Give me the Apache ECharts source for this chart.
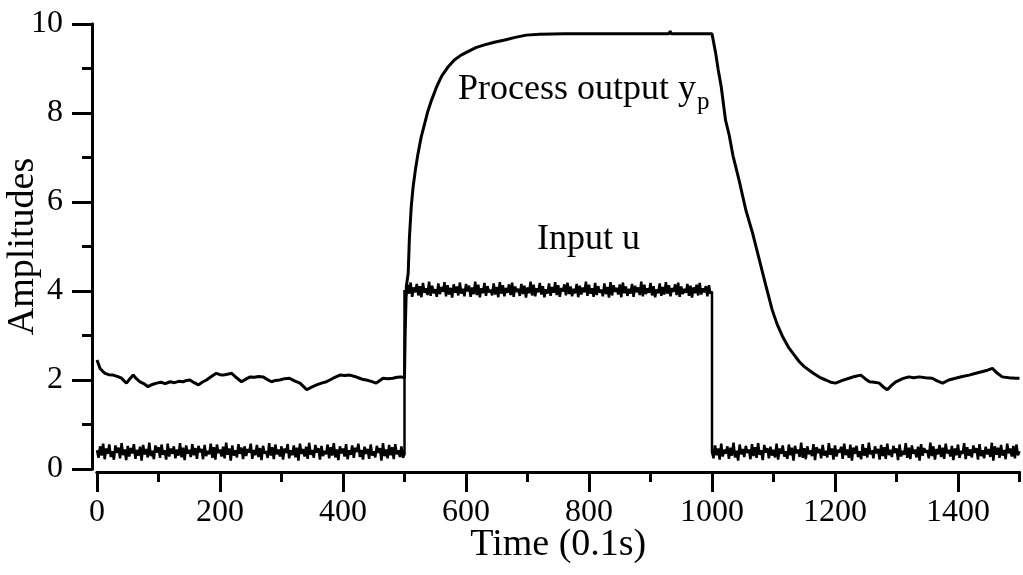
<!DOCTYPE html>
<html>
<head>
<meta charset="utf-8">
<script src="https://cdn.jsdelivr.net/npm/echarts@6/dist/echarts.min.js"></script>
<style>
html,body{margin:0;padding:0;background:#fff;}
#chart{width:1023px;height:575px;}
</style>
</head>
<body>
<div id="chart"></div>
<script>
// ---- Data ----
const xMajorTicks = [0, 200, 400, 600, 800, 1000, 1200, 1400];
const xMinorTicks = [100, 300, 500, 700, 900, 1100, 1300, 1500];
const yMajorTicks = [0, 2, 4, 6, 8, 10];
const yMinorTicks = [1, 3, 5, 7, 9];

const inputStep = 2.5; // sampling step of the input samples below (0.1 s units)
const inputSegmentStarts = [0, 500, 1000];
const inputLowStart = [
0.42,0.25,0.51,0.30,0.57,0.22,0.46,0.34,0.55,0.27,
0.40,0.21,0.53,0.36,0.48,0.24,0.58,0.31,0.44,0.20,
0.52,0.28,0.47,0.35,0.56,0.23,0.43,0.30,0.50,0.19,
0.54,0.33,0.45,0.26,0.59,0.29,0.41,0.22,0.53,0.37,
0.49,0.25,0.55,0.32,0.42,0.21,0.57,0.28,0.46,0.34,
0.51,0.24,0.44,0.30,0.58,0.26,0.48,0.20,0.53,0.35,
0.43,0.27,0.56,0.31,0.47,0.23,0.52,0.38,0.45,0.22,
0.54,0.29,0.41,0.33,0.57,0.25,0.49,0.21,0.55,0.36,
0.44,0.28,0.50,0.24,0.59,0.32,0.46,0.19,0.53,0.30,
0.42,0.26,0.56,0.34,0.48,0.22,0.51,0.29,0.45,0.37,
0.57,0.23,0.43,0.31,0.54,0.27,0.47,0.20,0.52,0.35,
0.40,0.25,0.58,0.30,0.49,0.22,0.55,0.33,0.44,0.28,
0.51,0.21,0.46,0.36,0.56,0.24,0.42,0.31,0.53,0.26,
0.48,0.19,0.57,0.34,0.45,0.28,0.50,0.23,0.59,0.32,
0.43,0.25,0.54,0.37,0.47,0.21,0.52,0.29,0.41,0.33,
0.55,0.24,0.49,0.30,0.58,0.26,0.44,0.20,0.51,0.35,
0.46,0.28,0.56,0.22,0.42,0.32,0.53,0.25,0.48,0.38,
0.57,0.27,0.43,0.21,0.50,0.34,0.45,0.23,0.55,0.30,
0.40,0.26,0.52,0.36,0.47,0.19,0.58,0.29,0.44,0.24,
0.54,0.31,0.49,0.22,0.56,0.33,0.42,0.27,0.51,0.25,
0.33];
const inputHigh = [
4.02,3.88,4.14,3.94,4.19,3.87,4.08,3.97,4.16,3.90,
4.11,3.86,4.18,3.96,4.06,3.91,4.21,3.89,4.12,3.95,
4.04,3.87,4.17,3.93,4.09,3.98,4.20,3.88,4.13,3.92,
4.07,3.85,4.15,3.96,4.10,3.90,4.19,3.94,4.05,3.88,
4.16,3.99,4.12,3.87,4.08,3.93,4.21,3.91,4.14,3.86,
4.06,3.95,4.18,3.89,4.11,3.97,4.03,3.90,4.17,3.92,
4.09,3.86,4.20,3.94,4.13,3.88,4.07,3.96,4.15,3.91,
4.19,3.87,4.10,3.98,4.05,3.89,4.16,3.93,4.12,3.85,
4.08,3.95,4.21,3.90,4.14,3.88,4.06,3.97,4.18,3.92,
4.11,3.86,4.04,3.94,4.17,3.89,4.09,3.96,4.20,3.91,
4.13,3.87,4.07,3.99,4.15,3.90,4.19,3.93,4.10,3.88,
4.05,3.95,4.16,3.86,4.12,3.92,4.08,3.97,4.21,3.89,
4.14,3.94,4.06,3.87,4.18,3.91,4.11,3.96,4.03,3.88,
4.17,3.93,4.09,3.85,4.20,3.90,4.13,3.98,4.07,3.92,
4.15,3.86,4.19,3.95,4.10,3.89,4.05,3.94,4.16,3.87,
4.12,3.97,4.08,3.91,4.21,3.88,4.14,3.93,4.06,3.96,
4.18,3.90,4.11,3.86,4.04,3.95,4.17,3.89,4.09,3.92,
4.20,3.94,4.13,3.88,4.07,3.98,4.15,3.91,4.19,3.87,
4.10,3.93,4.05,3.96,4.16,3.89,4.12,3.85,4.08,3.95,
4.14,3.90,4.18,3.92,4.06,3.97,4.11,3.88,4.13,3.94,
3.99];
const inputLowEnd = [
0.38,0.24,0.53,0.31,0.46,0.21,0.57,0.28,0.43,0.35,
0.51,0.23,0.48,0.30,0.59,0.26,0.41,0.19,0.55,0.33,
0.45,0.27,0.52,0.36,0.44,0.22,0.56,0.29,0.49,0.25,
0.58,0.32,0.42,0.20,0.54,0.37,0.47,0.24,0.50,0.30,
0.43,0.26,0.57,0.21,0.46,0.34,0.53,0.28,0.40,0.23,
0.55,0.31,0.48,0.19,0.52,0.35,0.44,0.27,0.59,0.25,
0.47,0.22,0.51,0.33,0.42,0.29,0.56,0.20,0.49,0.36,
0.45,0.24,0.54,0.30,0.41,0.26,0.58,0.32,0.46,0.21,
0.53,0.28,0.43,0.37,0.50,0.23,0.57,0.31,0.44,0.25,
0.55,0.19,0.48,0.34,0.52,0.27,0.40,0.22,0.56,0.30,
0.47,0.26,0.59,0.33,0.42,0.24,0.51,0.35,0.45,0.21,
0.54,0.29,0.49,0.23,0.57,0.31,0.43,0.27,0.52,0.36,
0.46,0.20,0.55,0.28,0.41,0.32,0.58,0.25,0.48,0.22,
0.53,0.34,0.44,0.26,0.50,0.19,0.56,0.30,0.47,0.37,
0.42,0.24,0.59,0.29,0.51,0.21,0.45,0.33,0.54,0.27,
0.48,0.23,0.57,0.35,0.43,0.28,0.52,0.20,0.46,0.31,
0.55,0.25,0.41,0.34,0.58,0.22,0.49,0.30,0.44,0.26,
0.53,0.36,0.47,0.21,0.56,0.29,0.42,0.24,0.50,0.33,
0.45,0.27,0.59,0.19,0.51,0.32,0.48,0.25,0.54,0.30,
0.43,0.22,0.57,0.35,0.46,0.28,0.52,0.24,0.55,0.31,
0.40];

const outputTime = [
0,5,9,13,19,26,33,40,44,48,53,59,64,70,76,83,90,97,104,111,119,126,133,140,146,151,158,165,171,178,
186,194,200,205,212,219,227,235,242,249,256,263,270,277,284,290,297,305,313,321,330,336,341,349,357,365,373,384,395,403,
411,419,427,433,438,446,454,460,465,473,481,488,495,500,501,503,506,508,511,514,518,522,527,533,538,544,552,560,570,581,
592,603,616,630,646,663,680,698,720,760,800,860,930,932,934,980,1000,1001,1006,1010,1015,1022,1028,1034,1044,1055,1066,1077,1088,1098,
1106,1115,1125,1136,1142,1150,1158,1166,1175,1185,1193,1201,1212,1223,1232,1242,1249,1256,1264,1272,1278,1285,1292,1299,1310,1320,1328,1337,1347,1358,
1366,1375,1385,1396,1407,1418,1429,1440,1448,1456,1464,1472,1483,1494,1500];
const outputValue = [
2.45,2.26,2.20,2.15,2.12,2.11,2.08,2.04,1.98,1.93,2.02,2.11,2.03,1.96,1.92,1.85,1.90,1.93,1.95,1.92,1.96,1.94,1.97,1.96,1.99,2.00,1.94,1.89,1.95,2.00,
2.08,2.15,2.12,2.11,2.13,2.15,2.05,1.96,2.02,2.07,2.06,2.08,2.07,2.01,1.96,1.99,2.00,2.03,2.04,1.98,1.93,1.85,1.78,1.84,1.89,1.93,1.96,2.04,2.11,2.10,
2.11,2.08,2.04,2.01,2.00,1.97,1.93,1.99,2.04,2.03,2.04,2.06,2.07,2.05,3.00,4.10,4.40,5.20,5.90,6.34,6.75,7.09,7.45,7.77,8.04,8.29,8.58,8.82,9.02,9.19,
9.30,9.38,9.47,9.53,9.59,9.64,9.70,9.75,9.77,9.78,9.78,9.78,9.78,9.84,9.78,9.78,9.78,9.76,9.34,8.98,8.59,7.84,7.50,7.05,6.49,5.82,5.30,4.70,4.10,3.57,
3.25,2.97,2.72,2.52,2.41,2.30,2.22,2.14,2.06,2.00,1.95,1.93,1.99,2.04,2.08,2.11,2.03,1.96,1.95,1.93,1.85,1.78,1.88,1.96,2.03,2.07,2.05,2.07,2.05,2.04,
1.98,1.93,2.00,2.04,2.08,2.11,2.15,2.19,2.22,2.26,2.15,2.07,2.05,2.04,2.04];

// ---- Build series data ----
const inputSegments = [inputLowStart, inputHigh, inputLowEnd];
const inputData = [];
inputSegments.forEach((seg, s) => {
  seg.forEach((v, i) => inputData.push([inputSegmentStarts[s] + i * inputStep, v]));
});
const outputData = outputTime.map((t, i) => [t, outputValue[i]]);

const FONT = 'Liberation Serif';
const black = '#000';
const plain = v => String(v);

const chart = echarts.init(document.getElementById('chart'), null, {renderer: 'canvas'});

const xBase = {
  type: 'value', min: 0, max: 1500, position: 'bottom', offset: 3,
  splitLine: {show: false},
  axisLine: {show: true, onZero: false, lineStyle: {color: black, width: 3}}
};
const yBase = {
  type: 'value', min: 0, max: 10, position: 'left', offset: 5,
  splitLine: {show: false},
  axisLine: {show: true, onZero: false, lineStyle: {color: black, width: 3}}
};

chart.setOption({
  animation: false,
  backgroundColor: '#fff',
  grid: {left: 97, right: 3.5, top: 24, bottom: 106, containLabel: false, outerBoundsMode: 'none'},
  xAxis: [
    Object.assign({}, xBase, {
      name: 'Time (0.1s)', nameLocation: 'middle', nameGap: 54, nameMoveOverlap: false,
      nameTextStyle: {color: black, fontFamily: FONT, fontSize: 38},
      axisTick: {show: true, customValues: xMajorTicks, length: 20, lineStyle: {color: black, width: 3}},
      axisLabel: {show: true, customValues: xMajorTicks, formatter: plain, color: black, fontFamily: FONT, fontSize: 32, margin: 25}
    }),
    Object.assign({}, xBase, {
      axisTick: {show: true, customValues: xMinorTicks, length: 10, lineStyle: {color: black, width: 3}},
      axisLabel: {show: false}
    })
  ],
  yAxis: [
    Object.assign({}, yBase, {
      name: 'Amplitudes', nameLocation: 'middle', nameGap: 50, nameRotate: 90, nameMoveOverlap: false,
      nameTextStyle: {color: black, fontFamily: FONT, fontSize: 38},
      axisTick: {show: true, customValues: yMajorTicks, length: 20, lineStyle: {color: black, width: 3}},
      axisLabel: {show: true, customValues: yMajorTicks, formatter: plain, color: black, fontFamily: FONT, fontSize: 32, margin: 29}
    }),
    Object.assign({}, yBase, {
      axisTick: {show: true, customValues: yMinorTicks, length: 10, lineStyle: {color: black, width: 3}},
      axisLabel: {show: false}
    })
  ],
  series: [
    {
      name: 'Input u', type: 'line', xAxisIndex: 0, yAxisIndex: 0,
      data: inputData, showSymbol: false, symbol: 'none',
      lineStyle: {color: black, width: 2.5}, z: 3
    },
    {
      name: 'Process output', type: 'line', xAxisIndex: 0, yAxisIndex: 0,
      data: outputData, showSymbol: false, symbol: 'none',
      lineStyle: {color: black, width: 3}, z: 4
    }
  ],
  graphic: [
    {type: 'text', left: 458, top: 72, style: {text: 'Process output y', fill: black, font: '36px "Liberation Serif"'}},
    {type: 'text', left: 697, top: 90, style: {text: 'p', fill: black, font: '25px "Liberation Serif"'}},
    {type: 'text', left: 537, top: 222, style: {text: 'Input u', fill: black, font: '36px "Liberation Serif"'}}
  ]
});
</script>
</body>
</html>
